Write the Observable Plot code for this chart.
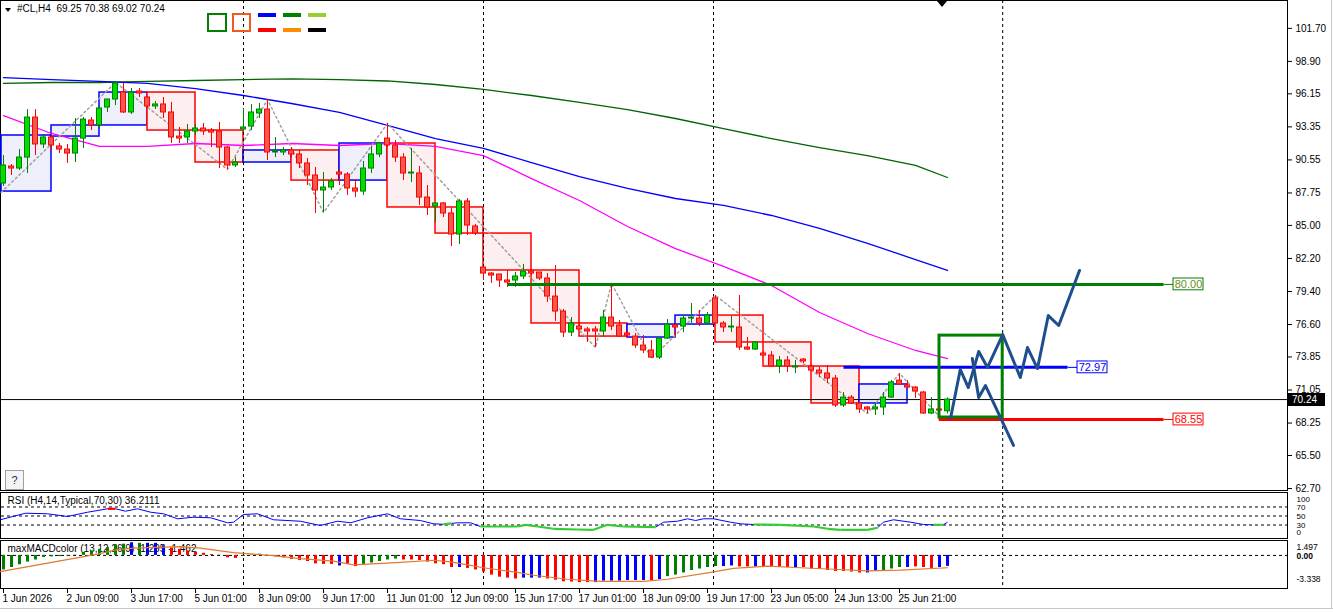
<!DOCTYPE html>
<html><head><meta charset="utf-8">
<script src="https://cdn.jsdelivr.net/npm/d3@7"></script>
<script src="https://cdn.jsdelivr.net/npm/@observablehq/plot@0.6"></script>
<style>
body{margin:0;background:#fff;}
#wrap{position:relative;width:1333px;height:613px;overflow:hidden;background:#fff;font-family:"Liberation Sans",Arial,sans-serif;font-size:10px;color:#000;}
#wrap svg{overflow:visible;}
.ov{position:absolute;box-sizing:border-box;}
</style></head><body><div id="wrap"></div>
<script>
// ---------- DATA ----------
const symbol = "#CL,H4";
const opens = [88.55,89.99,89.82,90.75,94.14,91.86,92.45,91.69,91.43,91.09,92.36,93.89,93.47,94.99,95.67,96.26,94.57,96.35,95.84,95.08,95.25,94.57,92.53,92.45,92.96,93.21,93.04,92.96,91.60,90.08,93.13,93.38,94.48,94.82,91.18,91.18,91.35,91.01,90.25,89.23,87.96,88.21,89.48,89.31,88.13,87.87,89.82,91.01,92.36,91.77,90.75,89.40,89.40,87.36,86.60,86.86,86.01,84.23,87.03,84.91,81.43,80.92,80.84,80.33,80.33,80.67,81.09,81.01,80.50,78.97,77.70,75.92,76.43,76.18,76.18,76.01,77.19,76.52,75.84,75.58,74.82,74.40,73.80,75.41,76.52,76.43,77.11,77.11,76.69,78.80,76.69,76.35,76.35,74.65,74.48,74.14,73.97,73.04,73.55,72.96,73.63,73.04,72.70,72.45,72.02,69.74,70.41,69.91,69.57,69.40,69.57,70.41,71.85,71.43,71.26,70.84,69.06,69.40,69.25];
const highs = [90.92,90.16,91.43,94.82,94.82,92.70,92.70,91.94,91.86,94.06,94.14,94.14,95.08,95.67,97.11,97.03,96.60,96.60,95.92,95.50,95.84,95.42,93.30,93.55,93.55,93.64,93.21,93.72,91.69,90.75,94.91,95.25,95.33,95.67,92.45,91.60,91.60,91.35,90.67,89.91,89.48,88.97,89.65,89.48,88.89,90.42,91.69,92.03,93.64,92.19,91.09,91.52,89.99,88.38,86.86,86.94,86.52,87.19,87.28,85.08,81.52,81.01,80.84,81.18,81.01,81.69,81.26,81.01,80.92,81.60,77.87,77.19,76.69,76.35,76.43,77.79,80.08,76.94,76.09,75.84,75.67,75.24,75.50,77.02,76.69,77.36,78.38,77.79,77.62,79.06,76.86,77.28,79.06,75.50,75.16,74.31,74.31,73.89,73.89,73.55,73.72,73.21,72.96,73.13,72.28,70.84,70.58,69.99,69.65,69.99,70.84,71.85,72.45,71.85,71.35,70.92,70.41,69.48,70.38];
const lows = [88.30,89.23,89.65,89.40,90.92,91.52,91.26,91.09,90.25,90.33,91.52,93.04,93.21,94.57,95.16,94.48,94.40,95.84,94.91,94.82,94.06,91.94,91.94,91.94,92.62,92.62,91.60,89.82,89.74,89.91,92.96,93.04,94.06,90.50,90.75,90.92,90.75,89.82,88.38,86.01,86.09,87.96,88.38,87.53,87.36,87.53,89.40,90.75,91.60,90.33,88.80,88.63,86.69,85.84,85.25,85.67,83.21,83.38,84.14,84.14,80.33,80.08,79.74,79.74,79.74,80.41,80.75,80.33,78.47,76.86,75.50,75.58,76.09,75.08,74.65,75.50,76.09,75.50,75.41,74.57,74.14,73.72,73.63,75.33,75.50,75.92,76.69,76.43,76.60,76.60,75.92,75.92,74.40,74.40,74.40,73.89,72.96,72.45,72.53,72.45,73.30,72.62,72.11,71.60,69.57,69.57,69.82,69.06,69.06,68.89,68.89,70.33,71.43,71.18,70.33,68.97,68.97,69.23,69.02];
const closes = [90.08,89.82,90.75,94.14,91.86,92.45,91.77,91.43,91.09,92.36,93.97,93.47,94.91,95.67,97.03,94.57,96.26,96.18,95.08,95.25,94.57,92.45,92.36,92.96,93.21,92.96,92.87,91.60,90.08,90.33,93.30,94.57,94.82,91.18,91.26,91.35,91.01,90.25,89.23,87.96,88.21,88.72,89.31,88.13,87.87,89.82,91.01,91.94,91.77,90.75,89.40,89.48,87.36,86.52,86.86,86.01,84.23,87.03,84.99,84.31,80.92,80.75,80.33,80.16,80.67,81.09,80.92,80.50,78.97,77.70,75.92,76.69,76.18,76.01,76.01,77.19,76.43,75.58,75.67,74.82,74.40,73.80,75.41,76.60,76.35,77.11,77.19,76.69,77.36,76.69,76.35,76.43,74.65,74.48,75.08,73.97,73.04,73.55,73.04,73.04,73.47,72.70,72.45,72.02,69.74,70.41,69.91,69.40,69.40,69.57,70.41,71.69,71.52,71.26,70.92,69.06,69.40,69.31,70.24];

// daily range boxes (previous close -> day close)
const boxStart = [-0.25,6,12,18,24,30,36,42,48,54,60,66,72,78,84,89,95,101,107];
const boxEnd   = [6,12,18,24,30,36,42,48,54,60,66,72,78,84,89,95,101,107,113];
const boxFrom  = [87.87,92.53,93.47,96.26,93.04,90.33,91.35,88.80,91.94,86.52,84.31,81.18,76.69,75.50,76.60,77.36,75.08,73.04,69.91];
const boxTo    = [92.62,93.47,96.26,93.04,90.33,91.35,88.80,91.94,86.52,84.31,81.18,76.69,75.58,76.60,77.36,75.08,73.04,69.91,71.52];

// moving averages sampled every 6 bars
const maBars = [0,6,12,18,24,30,36,42,48,54,60,66,72,78,84,90,96,102,108,114,118];
const maSlow = [97.03,97.11,97.11,97.20,97.28,97.36,97.41,97.36,97.24,96.94,96.52,96.01,95.42,94.82,94.06,93.21,92.36,91.60,90.92,90.08,89.06];
const maMid  = [97.53,97.36,97.20,97.03,96.60,96.01,95.33,94.57,93.47,92.36,91.52,90.33,89.14,88.13,87.28,86.69,85.84,84.74,83.47,82.11,81.18];
const maFast = [94.31,92.79,91.69,91.69,91.94,91.77,91.94,91.77,91.94,91.69,90.92,88.97,87.11,84.91,83.04,81.52,79.91,77.62,75.84,74.40,73.72];

// zigzag swing points
const zzBars   = [-0.3,14,28,33,40,48,74,76,81,89,108,112,117];
const zzPrices = [87.79,97.11,89.74,95.67,86.09,93.64,74.65,80.08,73.72,79.06,69.06,72.45,68.80];

// horizontal levels
const levelPrices = [80.00,72.97,68.55];
const levelFrom   = [63,105,116.9];
const levelTo     = [145,133,145];
const levelColors = ["#008000","#0000ff","#ff0000"];
const levelText   = ["#6b8e23","#0000ff","#ff0000"];

// forecast drawing
const fcBoxBars   = [117,124.9];
const fcBoxPrices = [68.72,75.66];
const fcUpBars    = [118.4,119.6,120.6,121.9,123.0,124.9,127.1,128.0,129.25,130.6,131.9,134.5];
const fcUpPrices  = [68.72,72.79,71.26,74.31,72.96,75.75,72.11,74.65,72.87,77.36,76.52,81.18];
const fcDnBars    = [121.1,121.9,122.75,126.25];
const fcDnPrices  = [73.72,70.41,71.43,66.35];

const sepBars = [30,60,88.75,124.9];
const priceTicks = [101.70,98.90,96.15,93.35,90.55,87.75,85.00,82.20,79.40,76.60,73.85,71.05,68.25,65.50,62.70];

const timeBars = [0,8,16,24,32,40,48,56,64,72,80,88,96,104,112];
const timeLabels = ["1 Jun 2026","2 Jun 09:00","3 Jun 17:00","5 Jun 01:00","8 Jun 09:00","9 Jun 17:00","11 Jun 01:00","12 Jun 09:00","15 Jun 17:00","17 Jun 01:00","18 Jun 09:00","19 Jun 17:00","23 Jun 05:00","24 Jun 13:00","25 Jun 21:00"];

// RSI
const rsiTitle = "RSI (H4,14,Typical,70,30) 36.2111";
const rsiLevels = [70,50,30];
const rsiAxis = [100,70,50,30,0];
const rsiBars  = [-0.4,2.75,5.5,8,10.5,13,14,15.25,16.75,18.4,20,21.75,23.75,25.9,28,28.75,30,31.75,33.75,37.1,39.6,41.75,43.4,45.5,48,49.6,52.1,53.75,55,56,56.75,58.4,59.6,64.25,65.25,66.75,68.75,71.75,73.75,75.5,77.5,81.5,82.5,84.25,85.5,86.5,87.5,88.75,90.9,92.1,93.75,97.1,101.25,103,104.6,108,109.25,110,111.25,113.4,115,116.25,117.5,118];
const rsiVals  = [41.6,56.2,54.9,48.9,58.4,66.0,66.0,60.7,66.0,58.4,54.9,43.8,47.3,46.0,34.9,36.2,53.3,54.9,41.6,38.4,28.9,38.4,34.9,46.0,54.9,43.8,40.0,32.7,31.5,33.5,34.9,34.9,26.7,26.7,30.4,26.7,21.6,20.0,19.3,30.4,26.7,25.1,36.2,38.4,43.8,40.0,43.8,43.8,36.2,32.7,31.1,30.4,26.7,21.6,19.3,19.3,23.8,36.2,41.6,36.2,31.1,30.4,30.6,36.2];
const rsiState = ["b","b","b","b","b","r","b","b","b","b","b","b","b","b","b","b","b","b","b","b","b","b","b","b","b","b","b","b","g","b","b","b","g","g","g","g","g","g","g","g","g","b","b","b","b","b","b","b","b","b","g","g","g","g","g","g","b","b","b","b","b","g","b","b"];

// MACD
const macdTitle = "maxMACDcolor (13,12,26,9) -1.295 -1.462";
const macdHist = [-1.72,-1.43,-1.11,-0.79,-0.54,-0.25,-0.18,-0.14,-0.07,0.03,0.36,0.54,0.72,0.90,1.25,1.33,1.50,1.43,1.43,1.43,1.15,0.90,0.72,0.54,0.36,0.25,0.11,0.03,-0.29,-0.36,-0.11,0.07,0.14,-0.07,-0.18,-0.29,-0.47,-0.61,-0.72,-1.00,-1.07,-1.07,-1.25,-1.07,-1.32,-1.07,-0.90,-0.72,-0.54,-0.43,-0.54,-0.54,-0.61,-0.79,-1.00,-1.11,-1.43,-1.43,-1.54,-1.72,-1.97,-2.33,-2.58,-2.69,-2.79,-2.69,-2.69,-2.69,-2.79,-2.94,-3.12,-3.15,-3.22,-3.22,-3.22,-3.04,-3.04,-3.04,-2.97,-2.97,-2.97,-2.97,-2.86,-2.51,-2.33,-2.08,-1.79,-1.61,-1.43,-1.32,-1.32,-1.25,-1.36,-1.36,-1.36,-1.36,-1.43,-1.43,-1.43,-1.50,-1.43,-1.61,-1.61,-1.79,-1.90,-1.90,-1.97,-2.08,-2.08,-1.90,-1.79,-1.61,-1.43,-1.43,-1.36,-1.43,-1.54,-1.43,-1.30];
const macdCol = "ggggggggggggggggbgbbbrrrrrrrrrgggrrrrrrrrrbrrgggggrrrrrrrbrrrrrrrbbbrrrrrrbbbbbbbrbgggggggbbrrbrrrrbrrrrrrrrbbgggbrrrbb".split("");
const sigBars = [-0.4,11.75,14.25,16.25,22.1,24.6,28.75,31.25,33.75,37.1,41.25,43.75,45.5,49.6,53.75,55.9,58,60,64.25,66.25,70.5,74.6,80,83,88.4,91.25,95.5,99.6,103.75,108,112.1,118];
const sigVals = [-1.92,0.15,0.69,0.87,1.04,0.87,0.33,0.15,-0.03,-0.39,-0.68,-1.11,-1.03,-0.82,-0.57,-0.76,-1.11,-1.46,-2.00,-2.35,-2.82,-3.07,-3.07,-2.82,-2.00,-1.54,-1.28,-1.46,-1.64,-1.82,-1.75,-1.46];
const macdMax = 1.497, macdMin = -3.338;

// ---------- RENDER ----------
const wrap = document.getElementById("wrap");
const FONT = '"Liberation Sans", Arial, sans-serif';
const W = 1333, ML = 1, MR = 46;
const XD = [-0.25, 160.5];
const style = {fontFamily: FONT, fontSize: "10px", background: "transparent", overflow: "visible", color: "#000"};
const COL = {g: "#008000", b: "#0000ff", r: "#ff0000"};

function place(el, top) { el.style.position = "absolute"; el.style.left = "0px"; el.style.top = top + "px"; wrap.appendChild(el); return el; }
function div(css, html) { const d = document.createElement("div"); d.className = "ov"; d.style.cssText = css; if (html != null) d.innerHTML = html; wrap.appendChild(d); return d; }

// panel borders
div("left:0;top:0;width:1288px;height:491px;border:1px solid #000;");
div("left:0;top:492px;width:1288px;height:47px;border:1px solid #000;");
div("left:0;top:540px;width:1288px;height:49px;border:1px solid #000;");
div("left:0;top:608px;width:1333px;height:1px;background:#c8c8c8;");
div("left:1331px;top:0;width:1px;height:609px;background:#c8c8c8;");

const idx = d3.range(opens.length);
const up = i => closes[i] >= opens[i];
const sep = () => Plot.ruleX(sepBars, {x: d => d, stroke: "#000", strokeDasharray: "3,3"});
const lv = d3.range(levelPrices.length);
const last = opens.length - 1;

const main = Plot.plot({
  width: W, height: 491, marginLeft: ML, marginRight: MR, marginTop: 0, marginBottom: 0,
  x: {domain: XD, axis: null}, y: {domain: [62.45, 104.06], axis: null},
  color: {type: "identity"}, style,
  marks: [
    Plot.rect(d3.range(boxStart.length), {x1: i => boxStart[i], x2: i => boxEnd[i], y1: i => boxFrom[i], y2: i => boxTo[i],
      fill: i => boxTo[i] > boxFrom[i] ? "#efeffc" : "#fdefef", stroke: i => boxTo[i] > boxFrom[i] ? "#0000ff" : "#ff0000", strokeWidth: 1.5}),
    sep(),
    Plot.ruleY([closes[last]], {y: d => d, stroke: "#000"}),
    Plot.line(maBars, {x: d => d, y: (d, k) => maSlow[k], stroke: "#006400", strokeWidth: 1.3}),
    Plot.line(maBars, {x: d => d, y: (d, k) => maMid[k], stroke: "#0000ff", strokeWidth: 1.3}),
    Plot.line(maBars, {x: d => d, y: (d, k) => maFast[k], stroke: "#ff00ff", strokeWidth: 1.3}),
    Plot.line(zzBars, {x: d => d, y: (d, k) => zzPrices[k], stroke: "#a0a0a0", strokeDasharray: "2,3"}),
    Plot.ruleX(idx, {x: i => i, y1: i => lows[i], y2: i => highs[i], stroke: i => up(i) ? "#008000" : "#ff0000"}),
    Plot.rect(idx, {x1: i => i - 0.3125, x2: i => i + 0.3125, y1: i => opens[i], y2: i => closes[i],
      fill: i => up(i) ? "#00dd00" : "#f25a50", stroke: i => up(i) ? "#008000" : "#ff0000"}),
    Plot.link(lv, {x1: i => levelFrom[i], x2: i => levelTo[i], y1: i => levelPrices[i], y2: i => levelPrices[i], stroke: i => levelColors[i], strokeWidth: 3}),
    Plot.link(lv, {x1: i => levelTo[i], x2: i => levelTo[i] + 1.25, y1: i => levelPrices[i], y2: i => levelPrices[i], stroke: i => levelColors[i], strokeWidth: 1}),
    Plot.rect(lv, {x1: i => levelTo[i] + 1.25, x2: i => levelTo[i] + 5, y1: i => levelPrices[i] - 0.5, y2: i => levelPrices[i] + 0.5, fill: "#fff", stroke: i => levelColors[i]}),
    Plot.text(lv, {x: i => levelTo[i] + 3.125, y: i => levelPrices[i], text: i => levelPrices[i].toFixed(2), fill: i => levelText[i], fontSize: 11}),
    Plot.rect([0], {x1: fcBoxBars[0], x2: fcBoxBars[1], y1: fcBoxPrices[0], y2: fcBoxPrices[1], fill: "none", stroke: "#008000", strokeWidth: 3}),
    Plot.line(fcUpBars, {x: d => d, y: (d, k) => fcUpPrices[k], stroke: "#1f4e8c", strokeWidth: 3}),
    Plot.line(fcDnBars, {x: d => d, y: (d, k) => fcDnPrices[k], stroke: "#1f4e8c", strokeWidth: 3}),
    Plot.axisY(priceTicks, {anchor: "right", tickSize: 4, tickPadding: 4, tickFormat: d => d.toFixed(2), label: null})
  ]
});
place(main, 0);

// current price tag
const yS = main.scale("y");
div(`left:1288px;top:${yS.apply(closes[last]) - 6.5}px;width:37px;height:13px;background:#000;color:#fff;padding-left:4px;line-height:13px;`, closes[last].toFixed(2));

// RSI panel
const rk = d3.range(rsiBars.length - 1);
const rsiDy = {100: 5.5, 70: 0.5, 50: 0, 30: 0, 0: -6.5};
const rsi = Plot.plot({
  width: W, height: 47, marginLeft: ML, marginRight: MR, marginTop: 0, marginBottom: 0,
  x: {domain: XD, axis: null}, y: {domain: [-2.22, 102.22], axis: null},
  color: {type: "identity"}, style,
  marks: [
    Plot.ruleY(rsiLevels, {y: d => d, stroke: "#000", strokeDasharray: "3,3"}),
    sep(),
    Plot.link(rk.filter(k => rsiState[k] === "b"), {x1: k => rsiBars[k], x2: k => rsiBars[k + 1], y1: k => rsiVals[k], y2: k => rsiVals[k + 1], stroke: "#0000ff", strokeWidth: 1}),
    Plot.link(rk.filter(k => rsiState[k] !== "b"), {x1: k => rsiBars[k], x2: k => rsiBars[k + 1], y1: k => rsiVals[k], y2: k => rsiVals[k + 1], stroke: k => rsiState[k] === "g" ? "#32cd32" : "#ff0000", strokeWidth: 2.2}),
    Plot.text([rsiTitle], {frameAnchor: "top-left", dx: 6, dy: 4, text: d => d}),
    ...rsiAxis.map(v => Plot.text([v], {y: d => d, text: d => String(d), frameAnchor: "right", textAnchor: "start", dx: 9, dy: rsiDy[v], fontSize: 8}))
  ]
});
place(rsi, 492);

// MACD panel
const mpx = 45 / (macdMax - macdMin);
const mTop = macdMax + 2.5 / mpx, mBot = macdMax - 51.5 / mpx;
const macd = Plot.plot({
  width: W, height: 49, marginLeft: ML, marginRight: MR, marginTop: 0, marginBottom: 0,
  x: {domain: XD, axis: null}, y: {domain: [mBot, mTop], axis: null},
  color: {type: "identity"}, style,
  marks: [
    Plot.text([macdTitle], {frameAnchor: "top-left", dx: 6, dy: 4, text: d => d}),
    Plot.ruleY([0], {y: d => d, stroke: "#000", strokeDasharray: "3,3"}),
    sep(),
    Plot.ruleX(idx, {x: i => i, y1: 0, y2: i => macdHist[i], stroke: i => COL[macdCol[i]], strokeWidth: 3}),
    Plot.line(sigBars, {x: d => d, y: (d, k) => sigVals[k], stroke: "#e07a2e", strokeWidth: 1.2}),
    Plot.text([macdMax], {y: d => d, text: d => d.toFixed(3), frameAnchor: "right", textAnchor: "start", dx: 9, dy: 4.5, fontSize: 8.5}),
    Plot.text([0], {y: d => d, text: d => "0.00", frameAnchor: "right", textAnchor: "start", dx: 9, dy: 1, fontSize: 8.5, fontWeight: "bold"}),
    Plot.text([macdMin], {y: d => d, text: d => d.toFixed(3), frameAnchor: "right", textAnchor: "start", dx: 9, dy: -4, fontSize: 8.5})
  ]
});
place(macd, 540);

// time axis
const tax = Plot.plot({
  width: W, height: 20, marginLeft: ML, marginRight: MR, marginTop: 0, marginBottom: 0,
  x: {domain: XD, axis: null}, y: {domain: [0, 20], range: [0, 20], axis: null}, style,
  marks: [
    Plot.ruleX(timeBars, {x: d => d, y1: 0, y2: 4, stroke: "#000"}),
    Plot.text(timeBars, {x: d => d, y: 9.5, text: (d, k) => timeLabels[k], textAnchor: "start", dx: -1})
  ]
});
place(tax, 589);

// header & chart decorations
div("left:5px;top:8px;width:0;height:0;border-left:3.5px solid transparent;border-right:3.5px solid transparent;border-top:4px solid #000;");
div("left:17px;top:3px;white-space:pre;font-size:10px;", `${symbol}  ${opens[last].toFixed(2)} ${highs[last].toFixed(2)} ${lows[last].toFixed(2)} ${closes[last].toFixed(2)}`);
div("left:207px;top:13px;width:20px;height:19px;border:2px solid #008000;");
div("left:232px;top:13px;width:19px;height:19px;border:2px solid #f05a1e;");
[["#0000ff",258,13],["#008000",283,13],["#9acd32",308,13],["#ff0000",258,28],["#ff8c00",283,28],["#000000",308,28]].forEach(([c,x,y]) => div(`left:${x}px;top:${y}px;width:18px;height:4px;background:${c};`));
div("left:937px;top:1px;width:0;height:0;border-left:5px solid transparent;border-right:5px solid transparent;border-top:6px solid #000;");
div("left:5px;top:470px;width:19px;height:20px;border:1px solid #a0a0a0;background:#f4f4f4;text-align:center;line-height:19px;font-size:11px;color:#203070;", "?");
</script>
</body></html>
